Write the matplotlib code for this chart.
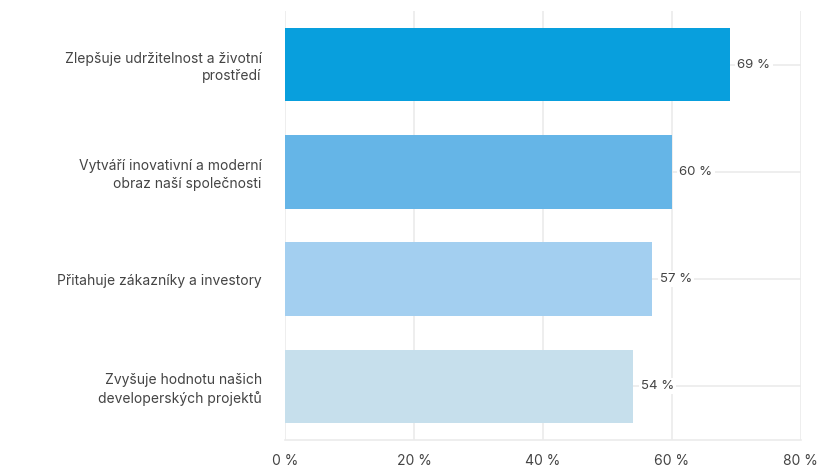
import matplotlib.pyplot as plt
import numpy as np

categories = [
    "Zlepšuje udržitelnost a životní\nprostředí",
    "Vytváří inovativní a moderní\nobraz naší společnosti",
    "Přitahuje zákazníky a investory",
    "Zvyšuje hodnotu našich\ndeveloperských projektů",
]
values = [69, 60, 57, 54]
colors = ["#089fdd", "#65b5e7", "#a3cff0", "#c6dfec"]
xticks = [0, 20, 40, 60, 80]

plt.rcParams['font.family'] = ['Inter', 'DejaVu Sans']
text_color = "#444444"
grid_color = "#ebebeb"

fig = plt.figure(figsize=(8.27, 4.70), dpi=100)
ax = fig.add_axes([0.345, 0.0638, 0.623, 0.9128])

y = np.arange(len(categories))
ax.barh(y, values, height=0.687, color=colors, zorder=2)

# value labels with white box over the gridline
for yi, v in zip(y, values):
    ax.text(v + 1.2, yi, f"{v} %", va='center', ha='left', fontsize=9.5,
            color=text_color, zorder=3,
            bbox=dict(facecolor='white', edgecolor='none', pad=1.5))

ax.set_xlim(0, 80)
ax.set_ylim(3.5, -0.5)
ax.set_xticks(xticks)
ax.set_xticklabels([f"{t} %" for t in xticks])
ax.set_yticks(y)
ax.set_yticklabels(categories, multialignment='right', linespacing=1.3)

ax.tick_params(axis='x', length=0, pad=10, labelsize=10, labelcolor=text_color)
ax.tick_params(axis='y', length=0, pad=17, labelsize=10, labelcolor=text_color)

ax.grid(True, axis='both', color=grid_color, linewidth=1.2, zorder=0)
ax.set_axisbelow(True)
for s in ['top', 'right', 'left']:
    ax.spines[s].set_visible(False)
ax.spines['bottom'].set_color(grid_color)
ax.spines['bottom'].set_linewidth(1.2)

fig.savefig("out.png", dpi=100, facecolor='white')
